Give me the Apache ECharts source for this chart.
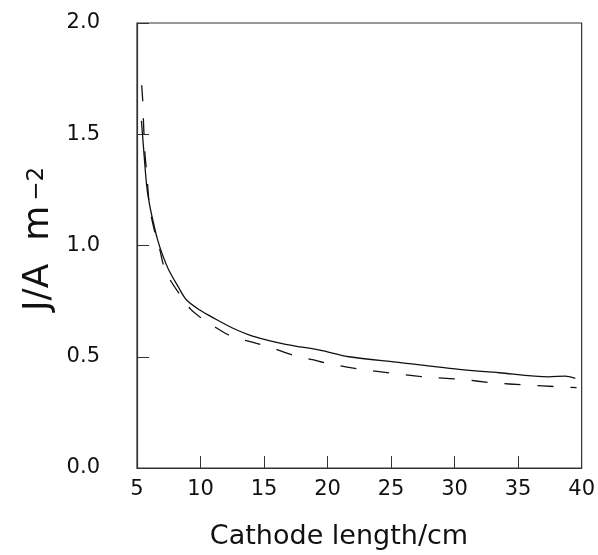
<!DOCTYPE html>
<html>
<head>
<meta charset="utf-8">
<script src="https://cdn.jsdelivr.net/npm/echarts@6/dist/echarts.min.js"></script>
<style>
html,body{margin:0;padding:0;background:#fff;}
#c{width:598px;height:555px;}
</style>
</head>
<body>
<div id="c"></div>
<script>
const xTicks = [5, 10, 15, 20, 25, 30, 35, 40];
const yTicks = [0.0, 0.5, 1.0, 1.5, 2.0];
const xTitle = 'Cathode length/cm';
const yTitleMain = 'J/A  m';
const yTitleSup = '−2';
const solidX = [5.35, 5.5, 5.76, 6.0, 6.3, 6.6, 7.0, 7.5, 8.24, 8.9, 9.94, 11.0, 12.56, 14.1, 16.7, 19.4, 21.7, 25.6, 29.6, 33.5, 37.4, 38.7, 39.5];
const solidY = [1.56, 1.45, 1.27, 1.18, 1.10, 1.03, 0.96, 0.89, 0.815, 0.755, 0.71, 0.675, 0.628, 0.593, 0.556, 0.53, 0.50, 0.475, 0.448, 0.428, 0.41, 0.413, 0.403];
const dashX = [5.37, 5.45, 5.5, 5.63, 5.76, 6.0, 6.4, 6.8, 7.1, 7.7, 8.4, 9.2, 10.2, 11.3, 12.4, 14.4, 15.6, 17.4, 18.8, 20.0, 22.6, 25.2, 27.7, 30.4, 33.0, 35.6, 38.2, 39.6];
const dashY = [1.72, 1.65, 1.57, 1.41, 1.33, 1.17, 1.06, 0.98, 0.91, 0.837, 0.778, 0.715, 0.668, 0.628, 0.593, 0.56, 0.54, 0.505, 0.487, 0.47, 0.444, 0.425, 0.409, 0.399, 0.383, 0.373, 0.365, 0.361];

const FONT = 'DejaVu Sans';
const chart = echarts.init(document.getElementById('c'), null, {renderer: 'canvas'});
chart.setOption({
  backgroundColor: '#fff',
  animation: false,
  grid: {left: 137, right: 15, top: 23, bottom: 87, show: true, borderColor: '#333', borderWidth: 1.2, backgroundColor: 'transparent'},
  xAxis: {
    type: 'value', min: xTicks[0], max: xTicks[xTicks.length - 1], interval: 5,
    axisLine: {show: true, lineStyle: {color: '#333', width: 1.2}},
    axisTick: {show: true, inside: true, length: 12, lineStyle: {color: '#333', width: 1}},
    splitLine: {show: false},
    axisLabel: {margin: 11, fontSize: 21, color: '#111', fontFamily: FONT}
  },
  yAxis: {
    type: 'value', min: yTicks[0], max: yTicks[yTicks.length - 1], interval: 0.5,
    axisLine: {show: true, lineStyle: {color: '#333', width: 1.2}},
    axisTick: {show: true, inside: true, length: 12, lineStyle: {color: '#333', width: 1}},
    splitLine: {show: false},
    axisLabel: {margin: 37, fontSize: 21, color: '#111', fontFamily: FONT,
      formatter: v => v.toFixed(1)}
  },
  graphic: [{
    type: 'text', x: 339, y: 537,
    style: {
      text: xTitle, fill: '#111', fontSize: 27, fontFamily: FONT,
      align: 'center', verticalAlign: 'middle'
    }
  }, {
    type: 'text', x: 39, y: 239, rotation: Math.PI / 2,
    style: {
      text: yTitleMain + '{sup|' + yTitleSup + '}', fill: '#111', fontSize: 36, fontFamily: FONT,
      align: 'center', verticalAlign: 'middle',
      rich: {sup: {fontSize: 23, fontFamily: FONT, fill: '#111', padding: [0, 0, 4, 5]}}
    }
  }],
  series: [
    {type: 'line', data: solidX.map((x, i) => [x, solidY[i]]), showSymbol: false, smooth: 0.3,
     lineStyle: {color: '#111', width: 1.3, type: 'solid'}},
    {type: 'line', data: dashX.map((x, i) => [x, dashY[i]]), showSymbol: false, smooth: 0.3,
     lineStyle: {color: '#111', width: 1.3, type: [16, 17]}}
  ]
});
</script>
</body>
</html>
